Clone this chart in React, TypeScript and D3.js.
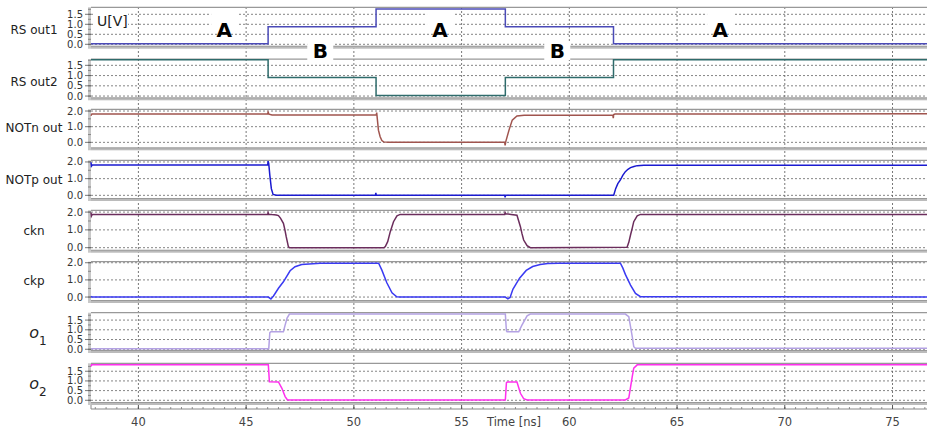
import React from 'react';
import * as d3 from 'd3';

// time range shown (ns)
const tMin = 37.8;
const tMax = 76.6;
const xTicks = [40, 45, 50, 55, 60, 65, 70, 75];

const rsOut1 = [[37.8, 0.03], [46.02, 0.03], [46.02, 0.88], [51.03, 0.88], [51.03, 1.77], [57.03, 1.77], [57.03, 0.88], [62.05, 0.88], [62.05, 0.03], [76.6, 0.03]];
const rsOut2 = [[37.8, 1.77], [46.02, 1.77], [46.02, 0.9], [51.03, 0.9], [51.03, 0.03], [57.03, 0.03], [57.03, 0.9], [62.05, 0.9], [62.05, 1.77], [76.6, 1.77]];
const notnOut = [[37.8, 1.7], [37.84, 1.81], [46.0, 1.81], [46.02, 1.92], [46.06, 1.8], [46.2, 1.75], [46.5, 1.74], [51.04, 1.74], [51.06, 1.9], [51.07, 1.75], [51.14, 0.78], [51.22, 0.36], [51.3, 0.12], [51.38, 0.03], [51.6, 0.01], [57.0, 0.01], [57.02, -0.2], [57.05, 0.05], [57.2, 0.78], [57.35, 1.42], [57.57, 1.68], [57.9, 1.73], [62.02, 1.73], [62.04, 1.55], [62.06, 1.78], [62.12, 1.81], [76.6, 1.82]];
const notpOut = [[37.8, 1.98], [37.82, 1.75], [37.86, 1.82], [46.0, 1.82], [46.02, 2.05], [46.05, 1.9], [46.1, 1.2], [46.17, 0.4], [46.25, 0.05], [46.4, 0.0], [51.0, 0.0], [51.02, 0.14], [51.04, 0.0], [57.0, 0.0], [57.02, -0.12], [57.04, 0.0], [62.06, 0.0], [62.15, 0.4], [62.25, 0.7], [62.37, 0.92], [62.48, 1.2], [62.6, 1.42], [62.72, 1.56], [62.84, 1.66], [63.0, 1.73], [63.15, 1.78], [63.46, 1.8], [76.6, 1.8]];
const cknOut = [[37.8, 1.97], [37.82, 1.78], [37.86, 1.87], [46.0, 1.87], [46.02, 1.97], [46.05, 1.88], [46.2, 1.86], [46.4, 1.84], [46.5, 1.8], [46.6, 1.65], [46.73, 1.37], [46.8, 1.0], [46.86, 0.62], [46.96, 0.06], [47.01, 0.0], [51.4, 0.0], [51.46, 0.06], [51.57, 0.34], [51.69, 0.9], [51.84, 1.46], [52.0, 1.79], [52.15, 1.87], [57.0, 1.87], [57.02, 1.97], [57.05, 1.9], [57.3, 1.87], [57.57, 1.82], [57.65, 1.5], [57.73, 1.18], [57.8, 0.8], [57.88, 0.43], [58.04, 0.11], [58.19, 0.0], [62.68, 0.02], [62.76, 0.3], [62.84, 0.71], [62.92, 1.1], [62.99, 1.46], [63.15, 1.79], [63.3, 1.87], [76.6, 1.87]];
const ckpOut = [[37.8, 0.05], [37.84, 0.0], [46.03, 0.0], [46.15, -0.11], [46.27, 0.06], [46.5, 0.51], [46.73, 0.89], [47.04, 1.53], [47.27, 1.77], [47.58, 1.9], [48.44, 1.97], [51.15, 1.97], [51.3, 1.57], [51.53, 0.83], [51.77, 0.25], [51.99, 0.02], [52.15, 0.0], [57.03, 0.0], [57.15, -0.1], [57.25, -0.02], [57.38, 0.45], [57.69, 1.1], [58.0, 1.55], [58.3, 1.78], [58.65, 1.9], [59.0, 1.95], [59.5, 1.97], [62.37, 1.97], [62.48, 1.7], [62.6, 1.32], [62.84, 0.7], [63.07, 0.21], [63.3, 0.02], [76.6, 0.0]];
const o1Out = [[37.8, 0.03], [46.05, 0.03], [46.1, 0.85], [46.15, 0.9], [46.73, 0.9], [46.8, 1.2], [46.9, 1.6], [47.01, 1.81], [57.03, 1.81], [57.08, 0.95], [57.11, 0.9], [57.65, 0.9], [57.8, 1.24], [58.04, 1.72], [58.19, 1.81], [62.6, 1.81], [62.76, 1.67], [62.84, 1.16], [62.92, 0.65], [62.99, 0.13], [63.07, 0.05], [76.6, 0.05]];
const o2Out = [[37.8, 1.75], [37.83, 1.83], [46.03, 1.83], [46.08, 0.96], [46.5, 0.95], [46.66, 0.62], [46.81, 0.19], [46.92, 0.02], [57.03, 0.02], [57.08, 0.9], [57.12, 0.95], [57.57, 0.94], [57.73, 0.36], [57.88, 0.08], [58.04, 0.02], [62.6, 0.02], [62.76, 0.12], [62.92, 1.22], [62.99, 1.66], [63.15, 1.83], [76.6, 1.83]];

const labels = ['RS out1', 'RS out2', 'NOTn out', 'NOTp out', 'ckn', 'ckp', 'o1', 'o2'];
const series = [rsOut1, rsOut2, notnOut, notpOut, cknOut, ckpOut, o1Out, o2Out];
const colors = ['#4b4bb8', '#2e6b6b', '#a0544e', '#1a1ad0', '#6b2d5c', '#3a3af2', '#b4a2e4', '#ff30ee'];
const ticksHalf = [0, 0.5, 1.0, 1.5];
const ticksOne = [0, 1.0, 2.0];
const yTicks = [ticksHalf, ticksHalf, ticksOne, ticksOne, ticksOne, ticksOne, ticksHalf, ticksHalf];
// panel boxes in px: [top, bottom] and value domain [lo, hi]
const panelBox = [[7.3, 46.7], [59.2, 98.3], [109.3, 148.3], [160.3, 199], [210.3, 250.7], [261.7, 301], [312.7, 351], [363.3, 403]];
const panelDomain = [[-0.12, 1.85], [-0.11, 1.8], [-0.38, 2.11], [-0.22, 2.1], [-0.17, 2.1], [-0.23, 2.06], [-0.09, 1.88], [-0.14, 1.91]];

const annotations = [
  { text: 'A', t: 43.98, y: 37 },
  { text: 'B', t: 48.44, y: 58 },
  { text: 'A', t: 54.0, y: 37 },
  { text: 'B', t: 59.44, y: 58 },
  { text: 'A', t: 67.0, y: 37 },
];

const W = 927;
const H = 435;
const left = 91;
const axisY = 409;

export default function App() {
  const x = d3.scaleLinear().domain([tMin, tMax]).range([left, W]);
  const fmt = d3.format('.1f');
  const minorX = d3.range(38, 77, 0.5);
  const font = 'DejaVu Sans, sans-serif';

  return (
    <svg width={W} height={H} style={{ position: 'absolute', left: 0, top: 0, background: '#fff' }} fontFamily={font}>
      {/* vertical grid */}
      {xTicks.map(t => (
        <line key={'vg' + t} x1={x(t)} x2={x(t)} y1={7} y2={axisY} stroke="#555" strokeWidth={0.8} strokeDasharray="2,2" />
      ))}

      {series.map((data, i) => {
        const [top, bottom] = panelBox[i];
        const y = d3.scaleLinear().domain(panelDomain[i]).range([bottom, top]);
        const line = d3.line<number[]>().x(d => x(d[0])).y(d => y(d[1]));
        const ticks = yTicks[i];
        const step = ticks[1] - ticks[0];
        const minor = d3.range(ticks[0] - step / 2, panelDomain[i][1], step / 2).filter(v => y(v) > top && y(v) < bottom);
        const lbl = labels[i];
        const labelY = (y(ticks[0]) + y(ticks[ticks.length - 1])) / 2 + 5;
        return (
          <g key={lbl}>
            {ticks.map(v => (
              <line key={v} x1={left} x2={W} y1={y(v)} y2={y(v)} stroke="#666" strokeWidth={0.8} strokeDasharray="2,2" />
            ))}
            <line x1={left} x2={W} y1={top} y2={top} stroke="#999" strokeWidth={1.2} />
            <rect x={left} y={bottom - 0.5} width={W - left} height={2.5} fill="#bbb" />
            <line x1={left} x2={W} y1={bottom - 0.5} y2={bottom - 0.5} stroke="#888" strokeWidth={0.8} />
            <rect x={88} y={top} width={3} height={bottom - top + 2} fill="#c8c8c8" />
            {minor.map(v => (
              <line key={'m' + v} x1={88} x2={91} y1={y(v)} y2={y(v)} stroke="#777" strokeWidth={0.8} />
            ))}
            {ticks.map(v => (
              <g key={'t' + v}>
                <line x1={85} x2={91} y1={y(v)} y2={y(v)} stroke="#555" strokeWidth={0.8} />
                <text x={83} y={y(v) + 3.5} fontSize={10} fill="#333" textAnchor="end">{fmt(v)}</text>
              </g>
            ))}
            <path d={line(data) || ''} fill="none" stroke={colors[i]} strokeWidth={1.5} />
            {lbl.startsWith('o') ? (
              <text x={38} y={labelY - 2} fontSize={16} fill="#222" fontStyle="italic" textAnchor="middle">
                {lbl[0]}
                <tspan fontStyle="normal" fontSize={12} dy={7}>{lbl.slice(1)}</tspan>
              </text>
            ) : (
              <text x={34} y={labelY} fontSize={12} fill="#222" textAnchor="middle">{lbl}</text>
            )}
          </g>
        );
      })}

      {/* x axis */}
      <line x1={left} x2={W} y1={axisY} y2={axisY} stroke="#888" strokeWidth={1} />
      <line x1={left} x2={left} y1={axisY - 4} y2={axisY} stroke="#888" strokeWidth={1} />
      {minorX.map(t => (
        <line key={'mx' + t} x1={x(t)} x2={x(t)} y1={axisY - 2} y2={axisY} stroke="#777" strokeWidth={0.8} />
      ))}
      {xTicks.map(t => (
        <g key={'xt' + t}>
          <line x1={x(t)} x2={x(t)} y1={axisY - 4} y2={axisY} stroke="#555" strokeWidth={1} />
          <text x={x(t)} y={426} fontSize={11.5} fill="#444" textAnchor="middle">{t}</text>
        </g>
      ))}
      <text x={514} y={426} fontSize={11.5} fill="#444" textAnchor="middle">Time [ns]</text>

      {/* annotations */}
      <rect x={93} y={10} width={35} height={20} fill="#fff" />
      <text x={97} y={26} fontSize={14} fill="#222">U[V]</text>
      {annotations.map((a, i) => (
        <g key={'a' + i}>
          <rect x={x(a.t) - 13} y={a.text === 'A' ? 11 : 43} width={26} height={a.text === 'A' ? 22 : 17} fill="#fff" />
          <text x={x(a.t)} y={a.y} fontSize={20} fontWeight="bold" fill="#000" textAnchor="middle">{a.text}</text>
        </g>
      ))}
    </svg>
  );
}
